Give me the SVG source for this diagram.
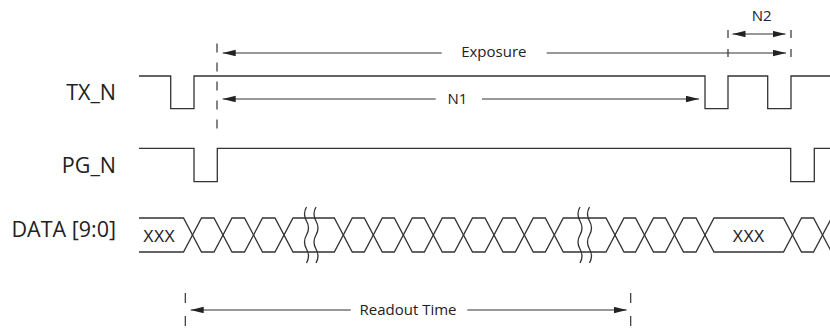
<svg xmlns="http://www.w3.org/2000/svg" width="830" height="333" viewBox="0 0 830 333">
<style>
.sig{fill:none;stroke:#333;stroke-width:1.3}
.arr{fill:none;stroke:#333;stroke-width:1.2}
.dash{fill:none;stroke:#333;stroke-width:1.2}
.lbl{font-family:"Open Sans","Noto Sans",sans-serif;font-size:21.5px;fill:#222;text-anchor:end}
.sm{font-family:"Open Sans","Noto Sans",sans-serif;font-size:15px;fill:#222;text-anchor:middle}
.xx{font-family:"Liberation Sans",Arial,sans-serif;font-size:16px;fill:#222;text-anchor:middle}
</style>
<defs>
<marker id="ah" markerUnits="userSpaceOnUse" markerWidth="14" markerHeight="8" refX="13" refY="3.25" orient="auto-start-reverse">
<path d="M0,0 L13,3.25 L0,6.5 z" fill="#222"/>
</marker>
</defs>
<rect width="830" height="333" fill="#fff"/>
<g id="labels">
<text class="lbl" x="116" y="100">TX_N</text>
<text class="lbl" x="116" y="173">PG_N</text>
<text class="lbl" x="116" y="237">DATA [9:0]</text>
</g>
<g id="tx_n">
<path class="sig" d="M139,76 H170.7 V108.7 H194 V76 H705 V108.7 H728 V76 H767.7 V108.7 H791 V76 H830"/>
</g>
<g id="pg_n">
<path class="sig" d="M139,148.3 H194 V181.7 H217.3 V148.3 H790.7 V181.7 H814.3 V148.3 H830"/>
</g>
<g id="data">
<path class="sig" d="M139,218 L183.5,218 L201.5,252 L214,252 L232,218 L244.5,218 L262.5,252 L275,252 L293,218 L334.3,218 L352.3,252 L364.3,252 L382.3,218 L394.3,218 L412.3,252 L424.3,252 L442.3,218 L454.5,218 L472.5,252 L485,252 L503,218 L515.3,218 L533.3,252 L545.3,252 L563.3,218 L606,218 L624,252 L635.5,252 L653.5,218 L665.5,218 L683.5,252 L696,252 L714,218 L783.5,218 L801.5,252 L813.5,252 L831.5,218"/>
<path class="sig" d="M139,252 L183.5,252 L201.5,218 L214,218 L232,252 L244.5,252 L262.5,218 L275,218 L293,252 L334.3,252 L352.3,218 L364.3,218 L382.3,252 L394.3,252 L412.3,218 L424.3,218 L442.3,252 L454.5,252 L472.5,218 L485,218 L503,252 L515.3,252 L533.3,218 L545.3,218 L563.3,252 L606,252 L624,218 L635.5,218 L653.5,252 L665.5,252 L683.5,218 L696,218 L714,252 L783.5,252 L801.5,218 L813.5,218 L831.5,252"/>
<text class="xx" x="159" y="241.5">XXX</text>
<text class="xx" x="748.5" y="241.5">XXX</text>
</g>
<g id="breaks">
<path class="sig" d="M306.5,207 q-4,7 0,14 t0,14 t0,14 t0,14"/>
<path class="sig" d="M316,207 q-4,7 0,14 t0,14 t0,14 t0,14"/>
<path class="sig" d="M580,207 q-4,7 0,14 t0,14 t0,14 t0,14"/>
<path class="sig" d="M589.5,207 q-4,7 0,14 t0,14 t0,14 t0,14"/>
</g>
<g id="connectors">
<line class="dash" x1="217" y1="43.5" x2="217" y2="130" stroke-dasharray="9 10"/>
<line class="dash" x1="728" y1="30" x2="728" y2="58" stroke-dasharray="8 11"/>
<line class="dash" x1="791" y1="30" x2="791" y2="58" stroke-dasharray="8 11"/>
<line class="dash" x1="185.3" y1="293" x2="185.3" y2="333" stroke-dasharray="10 13"/>
<line class="dash" x1="630.7" y1="293" x2="630.7" y2="333" stroke-dasharray="10 13"/>
<line class="arr" x1="441.7" y1="53" x2="222.7" y2="53" marker-end="url(#ah)"/>
<line class="arr" x1="546.7" y1="53" x2="786" y2="53" marker-end="url(#ah)"/>
<line class="arr" x1="435.7" y1="99" x2="222.7" y2="99" marker-end="url(#ah)"/>
<line class="arr" x1="482" y1="99" x2="699" y2="99" marker-end="url(#ah)"/>
<line class="arr" x1="732.5" y1="34" x2="785.5" y2="34" marker-start="url(#ah)" marker-end="url(#ah)"/>
<line class="arr" x1="350.7" y1="310" x2="190.7" y2="310" marker-end="url(#ah)"/>
<line class="arr" x1="467.3" y1="310" x2="626.7" y2="310" marker-end="url(#ah)"/>
</g>
<g id="dim-labels">
<text class="sm" x="493.8" y="56.7">Exposure</text>
<text class="sm" x="457.5" y="104">N1</text>
<text class="sm" x="761.7" y="20.7">N2</text>
<text class="sm" x="408" y="315">Readout Time</text>
</g>
</svg>
